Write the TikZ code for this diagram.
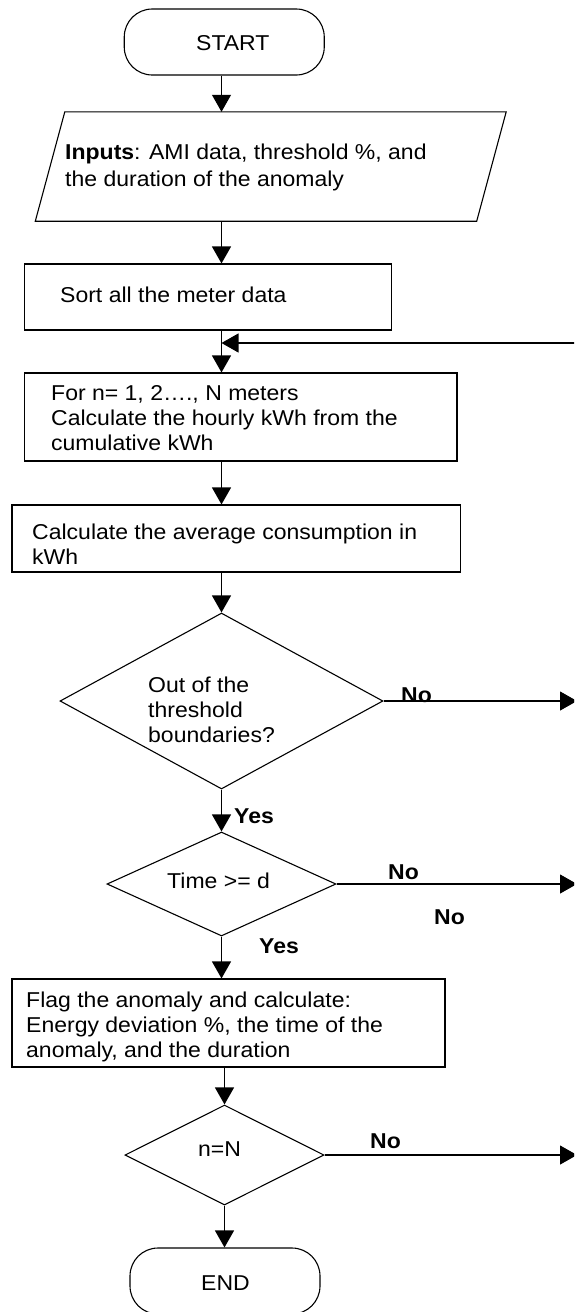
\documentclass[tikz,border=0pt]{standalone}
\usepackage{fontspec}
\setmainfont{Liberation Sans}[FakeStretch=1.07]
\usetikzlibrary{arrows.meta,shapes.geometric}
\begin{document}
\begin{tikzpicture}[x=1pt,y=-1pt,
  every node/.style={inner sep=0pt, font=\fontsize{21.5}{25}\selectfont},
  line/.style={draw=black, line width=1.1pt},
  box/.style={line, rectangle},
  term/.style={line, rectangle, rounded corners=28pt},
  dec/.style={line, diamond},
  arr/.style={line, -{Triangle[width=19pt,length=17pt]}},
  txt/.style={anchor=base west, align=left},
  lbl/.style={anchor=base west, font=\fontsize{21.5}{25}\selectfont\bfseries}]
\useasboundingbox (0,0) rectangle (574,1312);
\fill[white] (0,0) rectangle (574,1312);
\clip (0,0) rectangle (574,1312);
\coordinate (ax) at (221.5,0);
\coordinate (rx) at (577,0);

% shapes (multi-line texts are placed by the baseline of their last line)
\node[term, minimum width=200pt, minimum height=66pt] (start) at (224.25,42) {};
\node[txt] (startT) at (196,50.5) {START};

\node[minimum width=470.5pt, minimum height=109pt] (inp) at (270.75,166.5) {};
\draw[line] ([xshift=29.5pt]inp.north west) -- (inp.north east) -- ([xshift=-29.5pt]inp.south east) -- (inp.south west) -- cycle;
\node[txt, font=\fontsize{21.5}{27.5}\selectfont] (inpT) at (65,186.5) {\textbf{Inputs}: AMI data, threshold \%, and\\the duration of the anomaly};

\node[box, minimum width=367pt, minimum height=66pt] (sort) at (208,297) {};
\node[txt] (sortT) at (60,302) {Sort all the meter data};

\node[box, minimum width=432.5pt, minimum height=88pt] (for) at (240.75,417) {};
\node[txt] (forT) at (51,450) {For n= 1, 2…., N meters\\Calculate the hourly kWh from the\\cumulative kWh};

\node[box, minimum width=448.5pt, minimum height=67pt] (calc) at (236.25,538.5) {};
\node[txt] (calcT) at (32,564) {Calculate the average consumption in\\kWh};

\node[dec, minimum width=323pt, minimum height=176pt] (d1) at (221.5,701) {};
\node[txt] (d1T) at (148,742) {Out of the\\threshold\\boundaries?};

\node[dec, minimum width=229pt, minimum height=104pt] (d2) at (221.5,884) {};
\node[txt] (d2T) at (167,888) {Time >= d};

\node[box, minimum width=433pt, minimum height=88pt] (flag) at (228.5,1023) {};
\node[txt] (flagT) at (26,1057) {Flag the anomaly and calculate:\\Energy deviation \%, the time of the\\anomaly, and the duration};

\node[dec, minimum width=199pt, minimum height=100pt] (d3) at (224.5,1155) {};
\node[txt] (d3T) at (198,1156) {n=N};

\node[term, minimum width=190pt, minimum height=66pt] (end) at (225,1281) {};
\node[txt] (endT) at (201,1290) {END};

% connectors
\draw[arr] (start.south -| ax) -- (inp.north -| ax);
\draw[arr] (inp.south -| ax) -- (sort.north -| ax);
\draw[arr] (sort.south -| ax) -- (for.north -| ax);
\coordinate (j) at (221.5,343);
\coordinate (loopR) at (580,343);
\draw[arr] (loopR) -- (j);
\draw[arr] (for.south -| ax) -- (calc.north -| ax);
\draw[arr] (calc.south -| ax) -- (d1.north);
\draw[arr] (d1.south) -- (d2.north);
\draw[arr] (d2.south) -- (flag.north -| ax);
\draw[arr] (flag.south -| d3.north) -- (d3.north);
\draw[arr] (d3.south) -- (end.north -| d3.south);
\draw[arr] (d1.east) -- (d1.east -| rx);
\draw[arr] (d2.east) -- (d2.east -| rx);
\draw[arr] (d3.east) -- (d3.east -| rx);

% labels
\node[lbl] (no1) at (401,702) {No};
\node[lbl] (yes1) at (234,823) {Yes};
\node[lbl] (no2) at (388,879) {No};
\node[lbl] (no2b) at (434,924) {No};
\node[lbl] (yes2) at (259,953) {Yes};
\node[lbl] (no3) at (370,1148) {No};
\end{tikzpicture}
\end{document}
